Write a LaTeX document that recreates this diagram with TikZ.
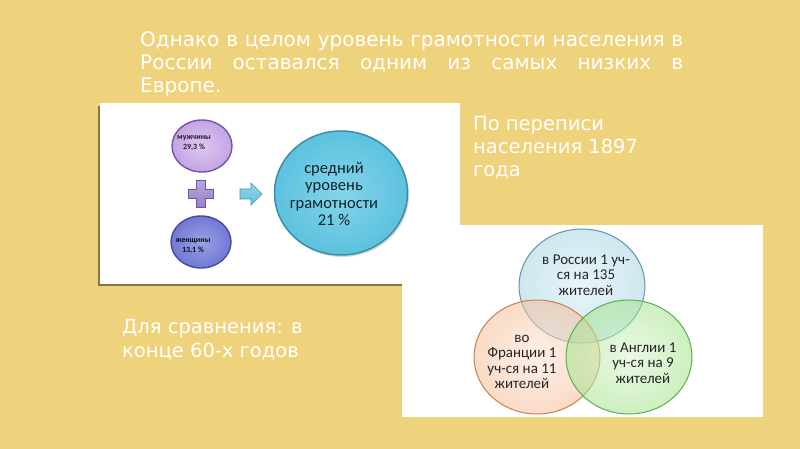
\documentclass[tikz,border=0pt]{standalone}
\usepackage{fontspec}
\setmainfont{DejaVu Sans}
\newfontfamily\calib{Carlito}
\usetikzlibrary{shapes.geometric,shadows}
\definecolor{bg}{HTML}{EFD27C}
\definecolor{frameline}{HTML}{8A7444}
\definecolor{menfill}{HTML}{C4A4E4}
\definecolor{menin}{HTML}{DCC8F2}
\definecolor{menline}{HTML}{7258A0}
\definecolor{womfill}{HTML}{7078D4}
\definecolor{womin}{HTML}{9AA2E6}
\definecolor{womline}{HTML}{444C9E}
\definecolor{bigfill}{HTML}{5CC2DE}
\definecolor{bigin}{HTML}{84D4EA}
\definecolor{bigline}{HTML}{3A8EA8}
\definecolor{plusfill}{HTML}{9A80C8}
\definecolor{plusline}{HTML}{6E56A0}
\definecolor{arrfill}{HTML}{62C4DC}
\definecolor{arrline}{HTML}{3A98B2}
\definecolor{vblue}{HTML}{A8D4E4}
\definecolor{vbluein}{HTML}{D4EEF6}
\definecolor{vblueline}{HTML}{5E96AA}
\definecolor{vor}{HTML}{F6BE98}
\definecolor{vorin}{HTML}{FCE4D4}
\definecolor{vorline}{HTML}{C8804C}
\definecolor{vgr}{HTML}{A4E48C}
\definecolor{vgrin}{HTML}{DAF6CE}
\definecolor{vgrline}{HTML}{5EAE52}
\begin{document}
\begin{tikzpicture}[x=1pt,y=-1pt,
  slidetext/.style={text=white,font=\fontsize{19.5}{23}\selectfont,inner sep=0pt,anchor=base west},
  titletext/.style={text=white,font=\fontsize{20}{23}\selectfont,inner sep=0pt,anchor=base west},
  smallcirc/.style={ellipse,inner sep=0pt,minimum width=60pt,minimum height=52pt,line width=1.4pt},
  smalltext/.style={font=\calib\fontsize{8}{9.5}\selectfont\bfseries,align=center,inner sep=0pt},
  venn/.style={ellipse,inner sep=0pt,minimum width=126pt,minimum height=114pt,line width=1pt,fill opacity=0.55,draw opacity=1},
  venntext/.style={font=\calib\fontsize{15}{15.5}\selectfont,text=black!85,align=center,inner sep=0pt}]
\useasboundingbox (0,0) rectangle (800,449);
\fill[bg] (0,0) rectangle (800,449);
% title
\node[titletext] (t1) at (140,47) {\makebox[543pt][s]{Однако в целом уровень грамотности населения в}};
\node[titletext] (t2) at (140,70) {\makebox[543pt][s]{России оставался одним из самых низких в}};
\node[titletext] (t3) at (140,93) {Европе.};
% frames
\fill[white] (100,103) rectangle (460,285);
\draw[frameline,line width=1.6pt] (99,106) -- (99,285) -- (402,285);
\fill[white] (402,225) rectangle (763,417);
% upper diagram
\node[smallcirc,draw=menline,inner color=menin,outer color=menfill] (men) at (202,146) {};
\node[smalltext,text=black!70!menline] (mentext) at (194,143) {мужчины\\29,3 \%};
\node[smallcirc,draw=womline,inner color=womin,outer color=womfill] (wom) at (201,242) {};
\node[smalltext,text=black!80!womline] (womtext) at (193,246) {женщины\\13,1 \%};
\draw[plusline,top color=plusfill!70!white,bottom color=plusfill,line width=0.6pt]
  (196,180) -- (205,180) -- (205,189) -- (213,189) -- (213,198) -- (205,198) -- (205,207)
  -- (196,207) -- (196,198) -- (188,198) -- (188,189) -- (196,189) -- cycle;
\draw[arrline,top color=arrfill!70!white,bottom color=arrfill,line width=0.6pt]
  (240,189) -- (251,189) -- (251,183) -- (262,194) -- (251,205) -- (251,199) -- (240,199) -- cycle;
\node[ellipse,inner sep=0pt,minimum width=133pt,minimum height=124pt,draw=bigline,line width=1.5pt,
  inner color=bigin,outer color=bigfill,drop shadow={shadow xshift=1.5pt,shadow yshift=-2pt,opacity=0.3}] (big) at (341,193) {};
\node[font=\calib\fontsize{16.5}{17.5}\selectfont,text=black!75!bigline,align=center,inner sep=0pt] (bigtext) at (334,194)
  {средний\\уровень\\грамотности\\21 \%};
% side texts
\node[slidetext] (p1) at (473,131) {По переписи};
\node[slidetext] (p2) at (473,154) {населения 1897};
\node[slidetext] (p3) at (473,177) {года};
\node[slidetext] (c1) at (122,333) {Для сравнения: в};
\node[slidetext] (c2) at (122,357) {конце 60-х годов};
% Venn
\node[venn,draw=vblueline,inner color=vbluein,outer color=vblue] (ru) at (582,286) {};
\node[venn,draw=vorline,inner color=vorin,outer color=vor] (fr) at (537,357) {};
\node[venn,draw=vgrline,inner color=vgrin,outer color=vgr] (en) at (629,357) {};
\node[venntext] (rutext) at (586,275) {в России 1 уч-\\ся на 135\\жителей};
\node[venntext] (frtext) at (522,362) {во\\Франции 1\\уч-ся на 11\\жителей};
\node[venntext] (entext) at (643,363) {в Англии 1\\уч-ся на 9\\жителей};
\end{tikzpicture}
\end{document}
